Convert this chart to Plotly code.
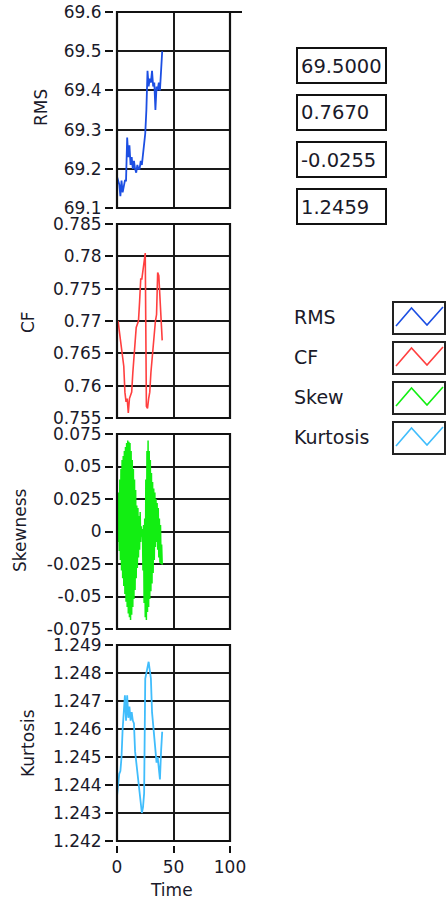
import plotly.graph_objects as go

# ---------------- data ----------------
time_coarse = list(range(41))
time_fine = [t / 2 for t in range(81)]

rms = [69.18, 69.17, 69.16, 69.13, 69.17, 69.14, 69.16, 69.17, 69.17, 69.28,
       69.23, 69.26, 69.21, 69.23, 69.20, 69.22, 69.20, 69.19, 69.21, 69.20,
       69.20, 69.22, 69.21, 69.24, 69.25, 69.29, 69.35, 69.45, 69.41, 69.43,
       69.42, 69.45, 69.41, 69.42, 69.35, 69.41, 69.40, 69.42, 69.40, 69.45,
       69.50]

cf = [0.7695, 0.7700, 0.7685, 0.7670, 0.7655, 0.7635, 0.7630, 0.7590, 0.7575, 0.7580,
      0.7558, 0.7580, 0.7585, 0.7590, 0.7620, 0.7640, 0.7660, 0.7690, 0.7695, 0.7700,
      0.7730, 0.7765, 0.7765, 0.7780, 0.7800, 0.7805, 0.7568, 0.7565, 0.7580, 0.7590,
      0.7620, 0.7640, 0.7660, 0.7690, 0.7700, 0.7710, 0.7775, 0.7770, 0.7740, 0.7710,
      0.7670]

skew = [0.000, 0.022, -0.008, 0.030, -0.015, 0.040, -0.022, 0.048, -0.030, 0.055,
        -0.036, 0.058, -0.042, 0.062, -0.048, 0.065, -0.054, 0.068, -0.058, 0.070,
        -0.063, 0.069, -0.066, 0.068, -0.068, 0.062, -0.064, 0.055, -0.058, 0.048,
        -0.052, 0.040, -0.045, 0.032, -0.036, 0.020, -0.028, 0.018, -0.020, 0.012,
        -0.014, 0.015, -0.008, 0.004, -0.004, 0.002, -0.030, 0.005, -0.055, 0.010,
        -0.066, 0.040, -0.068, 0.062, -0.062, 0.070, -0.058, 0.062, -0.052, 0.055,
        -0.046, 0.045, -0.040, 0.038, -0.032, 0.033, -0.022, 0.030, -0.012, 0.025,
        -0.008, 0.022, -0.014, 0.018, -0.020, 0.010, -0.024, 0.005, -0.025, -0.010,
        -0.0255]

kurt = [1.2436, 1.2440, 1.2444, 1.2445, 1.2450, 1.2460, 1.2466, 1.2472, 1.2463, 1.2472,
        1.2464, 1.2468, 1.2463, 1.2466, 1.2463, 1.2462, 1.2452, 1.2448, 1.2444, 1.2440,
        1.2437, 1.2433, 1.2430, 1.2432, 1.2437, 1.2478, 1.2480, 1.2482, 1.2484, 1.2481,
        1.2478, 1.2466, 1.2462, 1.2458, 1.2452, 1.2448, 1.2450, 1.2445, 1.2442, 1.2452,
        1.2459]

series_names = ["RMS", "CF", "Skew", "Kurtosis"]
axis_titles = ["RMS", "CF", "Skewness", "Kurtosis"]

rms_ticks = [69.1, 69.2, 69.3, 69.4, 69.5, 69.6]
rms_tick_text = ["69.1", "69.2", "69.3", "69.4", "69.5", "69.6"]
cf_ticks = [0.755, 0.76, 0.765, 0.77, 0.775, 0.78, 0.785]
cf_tick_text = ["0.755", "0.76", "0.765", "0.77", "0.775", "0.78", "0.785"]
skew_ticks = [-0.075, -0.05, -0.025, 0, 0.025, 0.05, 0.075]
skew_tick_text = ["-0.075", "-0.05", "-0.025", "0", "0.025", "0.05", "0.075"]
kurt_ticks = [1.242, 1.243, 1.244, 1.245, 1.246, 1.247, 1.248, 1.249]
kurt_tick_text = ["1.242", "1.243", "1.244", "1.245", "1.246", "1.247", "1.248", "1.249"]
time_ticks = [0, 50, 100]
time_tick_text = ["0", "50", "100"]
time_range = [0, 100]

# ---------------- styling ----------------
W, H = 446, 903
FONT = "DejaVu Sans"
colors = ["#1c4fe3", "#ff3f3f", "#12ee12", "#40bdfc"]
widths = [1.8, 1.6, 1.5, 1.8]


def px(x):
    return x / W


def py(y):
    return 1 - y / H


x_dom = [px(117), px(230)]
y_doms = [[py(208), py(12)], [py(418), py(224)], [py(629), py(434)], [py(841), py(645)]]

xs = [time_coarse, time_coarse, time_fine, time_coarse]
ys = [rms, cf, skew, kurt]
tick_sets = [(rms_ticks, rms_tick_text), (cf_ticks, cf_tick_text),
             (skew_ticks, skew_tick_text), (kurt_ticks, kurt_tick_text)]

fig = go.Figure()
for i in range(4):
    sfx = "" if i == 0 else str(i + 1)
    fig.add_trace(go.Scatter(x=xs[i], y=ys[i], mode="lines", name=series_names[i],
                             line=dict(color=colors[i], width=widths[i]),
                             xaxis="x" + sfx, yaxis="y" + sfx, showlegend=False))

grid_col = "#1a1a1a"
layout = dict(width=W, height=H, autosize=False,
              margin=dict(l=0, r=0, t=0, b=0, pad=0),
              paper_bgcolor="white", plot_bgcolor="white",
              font=dict(family=FONT, size=17, color="#1a1a2a"),
              showlegend=False)

for i in range(4):
    sfx = "" if i == 0 else str(i + 1)
    tv, tt = tick_sets[i]
    lo, hi = tv[0], tv[-1]
    xa = dict(domain=x_dom, range=time_range, tickvals=time_ticks, ticktext=time_tick_text,
              showgrid=True, gridcolor=grid_col, gridwidth=1.6, zeroline=False,
              showline=False, fixedrange=True, automargin=False)
    if i < 3:
        xa.update(anchor="y" + sfx, showticklabels=False, ticks="")
    else:
        xa.update(anchor="free", position=py(845), ticks="outside", ticklen=7,
                  tickwidth=1.6, tickcolor="#111", showticklabels=True,
                  tickfont=dict(family=FONT, size=17))
    ya = dict(domain=y_doms[i], range=[lo, hi], tickvals=tv, ticktext=tt,
              anchor="free", position=px(113), side="left",
              ticks="outside", ticklen=8, tickwidth=1.6, tickcolor="#111",
              showgrid=True, gridcolor=grid_col, gridwidth=1.6, zeroline=False,
              showline=False, tickfont=dict(family=FONT, size=17), fixedrange=True,
              automargin=False)
    layout["xaxis" + sfx] = xa
    layout["yaxis" + sfx] = ya

fig.update_layout(**layout)

shapes = []
annotations = []
# plot frames
for i in range(4):
    sfx = "" if i == 0 else str(i + 1)
    shapes.append(dict(type="rect", xref="x" + sfx + " domain", yref="y" + sfx + " domain",
                       x0=0, x1=1, y0=0, y1=1, line=dict(color="#111", width=2.2),
                       layer="above"))
# small extension of top border of first plot
shapes.append(dict(type="line", xref="x domain", yref="y domain", x0=1, x1=1 + 12 / 113,
                   y0=1, y1=1, line=dict(color="#111", width=2)))

# axis titles
title_pos = [(41, 108), (28, 322), (20, 531), (28, 743)]
for t, (x, y) in zip(axis_titles, title_pos):
    annotations.append(dict(text=t, x=px(x), y=py(y), xref="paper", yref="paper",
                            textangle=-90, showarrow=False, xanchor="center", yanchor="middle",
                            font=dict(family=FONT, size=17, color="#1a1a2a")))
annotations.append(dict(text="Time", x=px(171), y=py(890), xref="paper", yref="paper",
                        showarrow=False, xanchor="center", yanchor="middle",
                        font=dict(family=FONT, size=17, color="#1a1a2a")))

# value indicators
last_vals = [f"{rms[-1]:.4f}", f"{cf[-1]:.4f}", f"{skew[-1]:.4f}", f"{kurt[-1]:.4f}"]
box_tops = [48, 95, 142, 189]
for v, top in zip(last_vals, box_tops):
    shapes.append(dict(type="rect", xref="paper", yref="paper", x0=px(297), x1=px(386),
                       y0=py(top + 35), y1=py(top), line=dict(color="#111", width=2),
                       fillcolor="white"))
    annotations.append(dict(text=v, x=px(299), y=py(top + 18), xref="paper", yref="paper",
                            showarrow=False, xanchor="left", yanchor="middle",
                            font=dict(family=FONT, size=19.5, color="#1a1a2a")))

# legend
leg_tops = [302, 342, 382, 422]
for name, col, top in zip(series_names, colors, leg_tops):
    annotations.append(dict(text=name, x=px(292), y=py(top + 15), xref="paper", yref="paper",
                            showarrow=False, xanchor="left", yanchor="middle",
                            font=dict(family=FONT, size=19, color="#1a1a2a")))
    shapes.append(dict(type="rect", xref="paper", yref="paper", x0=px(393), x1=px(445),
                       y0=py(top + 32), y1=py(top), line=dict(color="#222", width=2),
                       fillcolor="white"))
    path = (f"M {px(396)} {py(top + 24)} L {px(411.5)} {py(top + 6)} "
            f"L {px(427)} {py(top + 23)} L {px(443)} {py(top + 5)}")
    shapes.append(dict(type="path", xref="paper", yref="paper", path=path,
                       line=dict(color=col, width=1.6)))

fig.update_layout(shapes=shapes, annotations=annotations)
fig.write_html("out.html")
